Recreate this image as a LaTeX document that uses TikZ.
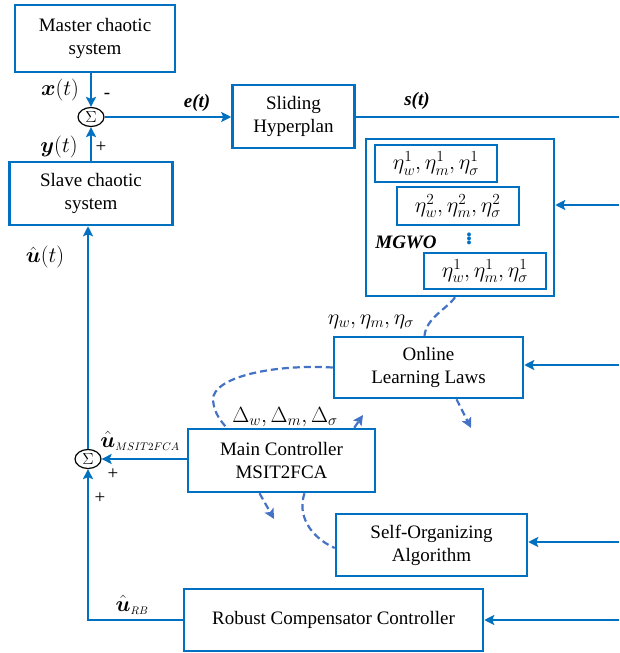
\RequirePackage{fix-cm}
\documentclass[tikz,border=0pt]{standalone}
\usepackage{fontspec}
\setmainfont{Liberation Serif}
\usepackage{amsmath, amssymb}
\usetikzlibrary{arrows.meta, shapes.geometric, calc}
\definecolor{lineblue}{RGB}{0, 112, 192}
\definecolor{dashblue}{RGB}{68, 114, 196}
\newcommand{\boxfont}{\fontsize{19}{23}\selectfont}
\newcommand{\lblfont}{\fontsize{19}{22}\selectfont}
\newcommand{\symfont}{\fontsize{22}{24}\selectfont}
\tikzset{
  blockbox/.style={draw=lineblue, line width=2.5pt, inner sep=0pt, align=center, font=\boxfont},
  parambox/.style={draw=lineblue, line width=1.8pt, inner sep=0pt, font=\symfont},
  sumnode/.style={ellipse, draw=black, line width=1.2pt, inner sep=0pt, minimum width=26pt, minimum height=19pt, font=\fontsize{16}{16}\selectfont},
  sig/.style={draw=lineblue, line width=2.5pt, -{Stealth[length=10pt, width=10pt, inset=2pt]}},
  feed/.style={draw=dashblue, line width=2.2pt, dash pattern=on 7pt off 4pt},
  lbl/.style={font=\lblfont, inner sep=0pt},
  symlbl/.style={font=\symfont, inner sep=0pt},
}

\begin{document}
\begin{tikzpicture}[x=1pt, y=-1pt]
  \useasboundingbox (0,0) rectangle (619,653);

  % Master / slave loop
  \node[blockbox, minimum width=160pt, minimum height=67pt] (master) at (95, 38.5) {Master chaotic\\system};
  \node[sumnode] (sum1) at (91, 117) {$\Sigma$};
  \node[blockbox, minimum width=163pt, minimum height=63pt] (slave) at (91, 193.5) {Slave chaotic\\system};
  \node[blockbox, minimum width=122pt, minimum height=63pt] (sliding) at (293.5, 116.5) {Sliding\\Hyperplan};

  \node[symlbl] (lx) at (60, 90) {$\boldsymbol{x}(t)$};
  \node[lbl] (lminus) at (107, 96) {-};
  \node[symlbl] (ly) at (59, 147) {$\boldsymbol{y}(t)$};
  \node[lbl] (lplus1) at (101, 147) {+};
  \node[lbl] (le) at (197, 103) {\textbf{\textit{e(t)}}};
  \node[lbl] (ls) at (417, 101) {\textbf{\textit{s(t)}}};
  \node[symlbl] (lu) at (45, 257) {$\hat{\boldsymbol{u}}(t)$};

  % MGWO block
  \node[blockbox, minimum width=188pt, minimum height=157pt] (mgwo) at (460, 217.5) {};
  \node[parambox, minimum width=122pt, minimum height=37pt] (eta1) at (436, 163.5) {$\eta_w^1, \eta_m^1, \eta_\sigma^1$};
  \node[parambox, minimum width=122pt, minimum height=38pt] (eta2) at (458, 206) {$\eta_w^2, \eta_m^2, \eta_\sigma^2$};
  \node[text=lineblue, font=\fontsize{24}{24}\selectfont\bfseries, inner sep=0pt] (ldots) at (469, 236) {$\vdots$};
  \node[lbl] (lmgwo) at (406, 242) {\textbf{\textit{MGWO}}};
  \node[parambox, minimum width=122pt, minimum height=36pt] (eta3) at (485, 271) {$\eta_w^1, \eta_m^1, \eta_\sigma^1$};

  % Controllers
  \node[blockbox, minimum width=189pt, minimum height=61pt] (online) at (428.5, 367.5) {Online\\Learning Laws};
  \node[blockbox, minimum width=187pt, minimum height=63pt] (main) at (281.5, 460.5) {Main Controller\\MSIT2FCA};
  \node[sumnode] (sum2) at (88, 459) {$\Sigma$};
  \node[blockbox, minimum width=191pt, minimum height=62pt] (selforg) at (431.5, 545) {Self-Organizing\\Algorithm};
  \node[blockbox, minimum width=299pt, minimum height=62pt] (robust) at (333.5, 620) {Robust Compensator Controller};

  \node[symlbl] (leta) at (371, 322) {$\eta_w, \eta_m, \eta_\sigma$};
  \node[symlbl] (ldelta) at (285, 417) {$\Delta_w, \Delta_m, \Delta_\sigma$};
  \node[symlbl] (lumain) at (140, 441) {$\hat{\boldsymbol{u}}_{\scriptscriptstyle MSIT2FCA}$};
  \node[lbl] (lplus2) at (113, 474) {+};
  \node[lbl] (lplus3) at (100, 498) {+};
  \node[symlbl] (lurb) at (132, 605) {$\hat{\boldsymbol{u}}_{\scriptscriptstyle RB}$};

  % right edge feeds
  \coordinate (rs) at (619, 117);
  \coordinate (rm) at (619, 205);
  \coordinate (ro) at (619, 365);
  \coordinate (rso) at (619, 542);
  \coordinate (rr) at (619, 620);

  % signal lines
  \draw[sig] (master.south -| sum1.north) -- (sum1.north);
  \draw[sig] (slave.north -| sum1.south) -- (sum1.south);
  \draw[sig] (sum1.east) -- (sliding.west |- sum1.east);
  \draw[draw=lineblue, line width=2.5pt] (sliding.east |- rs) -- (rs);
  \draw[sig] (rm) -- (rm -| mgwo.east);
  \draw[sig] (ro) -- (ro -| online.east);
  \draw[sig] (rso) -- (rso -| selforg.east);
  \draw[sig] (rr) -- (rr -| robust.east);
  \draw[sig] (main.west |- sum2) -- (sum2.east);
  \draw[sig] (robust.west) -| (sum2.south);
  \draw[sig] (sum2.north) -- (sum2.north |- slave.south);

  % adaptation (dashed)
  \coordinate (fbup) at (363, 415);
  \coordinate (fbdown) at (471, 428);
  \coordinate (fbmain) at (274, 519);
  \draw[feed] ($(mgwo.south)+(-5,0)$) .. controls (448, 308) and (426, 318) .. ($(online.north)+(-4,0)$);
  \draw[feed] (online.west) .. controls (270, 364) and (212, 378) .. (213, 400) .. controls (214, 414) and (222, 422) .. ($(main.north)+(-55,0)$);
  \draw[feed, -{Stealth[length=10pt, width=10pt, inset=2pt]}] ($(main.north east)+(-22,0)$) -- (fbup);
  \draw[feed, -{Stealth[length=10pt, width=10pt, inset=2pt]}] ($(online.south)+(28,0)$) -- (fbdown);
  \draw[feed, -{Stealth[length=10pt, width=10pt, inset=2pt]}] ($(main.south)+(-22,0)$) -- (fbmain);
  \draw[feed] ($(main.south)+(23,0)$) .. controls (297, 515) and (310, 537) .. ($(selforg.west)+(0,3)$);
\end{tikzpicture}
\end{document}
